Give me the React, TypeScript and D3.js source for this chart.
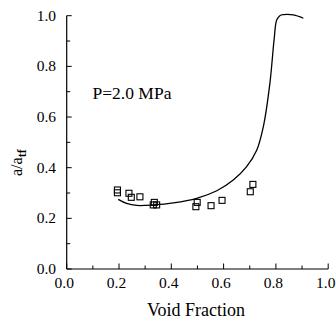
import React from "react";
import * as d3 from "d3";

const pointX = [0.194, 0.194, 0.238, 0.247, 0.28, 0.335, 0.331, 0.344, 0.494, 0.499, 0.552, 0.594, 0.702, 0.712];
const pointY = [0.312, 0.301, 0.299, 0.283, 0.285, 0.263, 0.253, 0.253, 0.246, 0.263, 0.25, 0.271, 0.305, 0.334];

const curveX = [0.197, 0.229, 0.268, 0.331, 0.408, 0.497, 0.574, 0.637, 0.688, 0.727, 0.752, 0.777, 0.793, 0.803, 0.815, 0.828, 0.867, 0.905];
const curveY = [0.275, 0.259, 0.251, 0.253, 0.261, 0.279, 0.309, 0.351, 0.404, 0.47, 0.562, 0.733, 0.904, 0.983, 1.0, 1.004, 1.003, 0.99];

const majorTicks = [0, 0.2, 0.4, 0.6, 0.8, 1.0];
const minorTicks = [0.1, 0.3, 0.5, 0.7, 0.9];

export default function App() {
  const W = 336, H = 320;
  const x = d3.scaleLinear().domain([0, 1]).range([66.7, 328.2]);
  const y = d3.scaleLinear().domain([0, 1]).range([269, 15.7]);
  const line = d3
    .line<number>()
    .x((_, i) => x(curveX[i]))
    .y((_, i) => y(curveY[i]))
    .curve(d3.curveCatmullRom.alpha(0.5));
  const font = "Liberation Serif, Times New Roman, DejaVu Serif, serif";
  const s = 6;
  return (
    <svg width={W} height={H} style={{ position: "absolute", left: 0, top: 0, background: "#fff", fontFamily: font }}>
      <rect x={0} y={0} width={W} height={H} fill="#fff" />
      <g style={{ fontFamily: font }}>
        {/* axes */}
        <line x1={x(0)} x2={x(0)} y1={y(1)} y2={y(0)} stroke="#000" strokeWidth={1.2} />
        <line x1={x(0)} x2={x(1)} y1={y(0)} y2={y(0)} stroke="#000" strokeWidth={1.2} />
        {majorTicks.map((t) => (
          <g key={"my" + t}>
            <line x1={x(0)} x2={x(0) + 5} y1={y(t)} y2={y(t)} stroke="#000" strokeWidth={1} />
            <text x={56} y={y(t) + 5} textAnchor="end" fontSize={15.5}>{t.toFixed(1)}</text>
          </g>
        ))}
        {minorTicks.map((t) => (
          <line key={"ny" + t} x1={x(0)} x2={x(0) + 3.5} y1={y(t)} y2={y(t)} stroke="#000" strokeWidth={1} />
        ))}
        {majorTicks.map((t) => (
          <g key={"mx" + t}>
            <line x1={x(t)} x2={x(t)} y1={y(0)} y2={y(0) - 5.5} stroke="#000" strokeWidth={1} />
            <text x={x(t) - 2.5} y={288} textAnchor="middle" fontSize={15.5}>{t.toFixed(1)}</text>
          </g>
        ))}
        {minorTicks.map((t) => (
          <line key={"nx" + t} x1={x(t)} x2={x(t)} y1={y(0)} y2={y(0) - 3.5} stroke="#000" strokeWidth={1} />
        ))}
        {/* curve */}
        <path d={line(curveX) || ""} fill="none" stroke="#000" strokeWidth={1.3} />
        {/* points */}
        {pointX.map((px, i) => (
          <rect key={"p" + i} x={x(px) - s / 2} y={y(pointY[i]) - s / 2} width={s} height={s} fill="none" stroke="#000" strokeWidth={1.1} />
        ))}
        <text x={92.5} y={98.5} fontSize={17.5}>P=2.0 MPa</text>
        <text x={196} y={316} textAnchor="middle" fontSize={18}>Void Fraction</text>
        <text transform="translate(22,176) rotate(-90)" fontSize={16}>
          a/a<tspan fontSize={12} fontWeight="bold" dy={4}>tf</tspan>
        </text>
      </g>
    </svg>
  );
}
